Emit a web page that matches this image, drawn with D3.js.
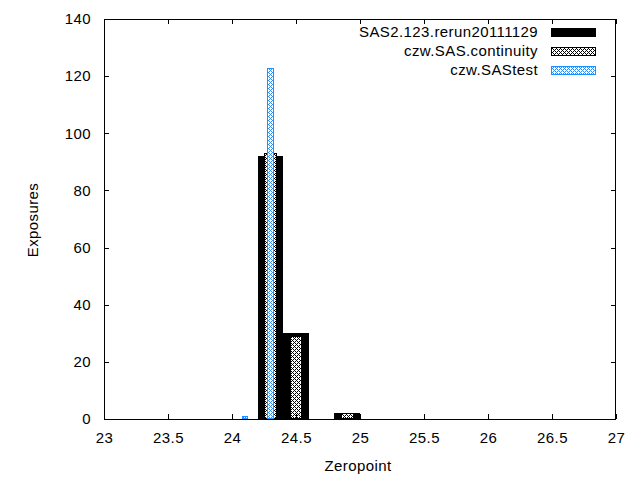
<!DOCTYPE html>
<html>
<head>
<meta charset="utf-8">
<script src="https://cdn.jsdelivr.net/npm/d3@7"></script>
<style>
  html, body { margin: 0; padding: 0; background: #fff; }
  svg { display: block; }
  text { font-family: "Liberation Sans", Arial, sans-serif; font-size: 15px; fill: #000; letter-spacing: 0.4px; }
</style>
</head>
<body>
<svg id="chart" width="640" height="480"></svg>
<script>
// ---- data ----
const seriesNames = ["SAS2.123.rerun20111129", "czw.SAS.continuity", "czw.SAStest"];
const rerunBins = [24.3, 24.5, 24.9];
const rerunCounts = [92, 30, 2];
const continuityBins = [24.3, 24.5, 24.9];
const continuityCounts = [93, 29, 2];
const testBins = [24.1, 24.3];
const testCounts = [1, 123];
const barWidths = [0.2, 0.1, 0.05];
const xTicks = [23, 23.5, 24, 24.5, 25, 25.5, 26, 26.5, 27];
const xTickLabels = ["23", "23.5", "24", "24.5", "25", "25.5", "26", "26.5", "27"];
const yTicks = [0, 20, 40, 60, 80, 100, 120, 140];
const yTickLabels = ["0", "20", "40", "60", "80", "100", "120", "140"];
const xTitle = "Zeropoint";
const yTitle = "Exposures";

// ---- layout ----
const L = 104, R = 616, T = 19, B = 419;
const svg = d3.select("#chart");
const x = d3.scaleLinear().domain([23, 27]).range([L, R]);
const y = d3.scaleLinear().domain([0, 140]).range([B, T]);
const FONT = "'Liberation Sans', Arial, sans-serif";

const defs = svg.append("defs");
function makePattern(id, color) {
  const p = defs.append("pattern").attr("id", id)
    .attr("patternUnits", "userSpaceOnUse").attr("width", 4).attr("height", 4);
  p.append("rect").attr("width", 4).attr("height", 4).attr("fill", "#fff");
  const px = [[0,0],[1,1],[3,1],[2,2],[1,3],[3,3]];
  px.forEach(([a,b]) => p.append("rect").attr("x", a).attr("y", b)
    .attr("width", 1).attr("height", 1).attr("fill", color));
}
makePattern("hatchBlack", "#000");
makePattern("hatchBlue", "#1e90ff");

const styles = [
  { fill: "#000", stroke: "#000" },
  { fill: "url(#hatchBlack)", stroke: "#000" },
  { fill: "url(#hatchBlue)", stroke: "#1e90ff" }
];
const series = [
  { bins: rerunBins, counts: rerunCounts },
  { bins: continuityBins, counts: continuityCounts },
  { bins: testBins, counts: testCounts }
];

// bars
series.forEach((s, i) => {
  const w = barWidths[i];
  const data = s.bins.map((b, k) => ({ b, c: s.counts[k] }));
  svg.append("g").selectAll("rect").data(data).join("rect")
    .attr("x", d => Math.round(x(d.b - w / 2)) + 0.5)
    .attr("y", d => Math.round(y(d.c)) + 0.5)
    .attr("width", d => Math.round(x(d.b + w / 2)) - Math.round(x(d.b - w / 2)) - 1)
    .attr("height", d => Math.round(y(0)) - Math.round(y(d.c)) - 1)
    .attr("fill", styles[i].fill)
    .attr("stroke", styles[i].stroke)
    .attr("stroke-width", 1)
    .attr("shape-rendering", "crispEdges");
});

// axes with inward ticks (gnuplot style, mirrored)
const tickLen = 5;
const gx = svg.append("g").attr("transform", `translate(0,${B})`)
  .call(d3.axisBottom(x).tickValues(xTicks).tickFormat((d, i) => xTickLabels[i])
    .tickSizeInner(-tickLen).tickSizeOuter(0).tickPadding(13));
gx.select(".domain").remove();
gx.attr("font-size", null).attr("font-family", null);
gx.selectAll("text").attr("dy", "0.71em").style("font-size", "15px").style("font-family", FONT);

const gy = svg.append("g").attr("transform", `translate(${L},0)`)
  .call(d3.axisLeft(y).tickValues(yTicks).tickFormat((d, i) => yTickLabels[i])
    .tickSizeInner(-tickLen).tickSizeOuter(0).tickPadding(13));
gy.select(".domain").remove();
gy.attr("font-size", null).attr("font-family", null);
gy.selectAll("text").style("font-size", "15px").style("font-family", FONT);

const gt = svg.append("g").attr("transform", `translate(0,${T})`)
  .call(d3.axisTop(x).tickValues(xTicks).tickFormat("").tickSizeInner(-tickLen).tickSizeOuter(0));
gt.select(".domain").remove();
const gr = svg.append("g").attr("transform", `translate(${R},0)`)
  .call(d3.axisRight(y).tickValues(yTicks).tickFormat("").tickSizeInner(-tickLen).tickSizeOuter(0));
gr.select(".domain").remove();
svg.selectAll(".tick line").attr("shape-rendering", "crispEdges").attr("stroke", "#000");

// border
svg.append("rect").attr("x", L + 0.5).attr("y", T + 0.5)
  .attr("width", R - L - 1).attr("height", B - T).attr("fill", "none")
  .attr("stroke", "#000").attr("shape-rendering", "crispEdges");

// titles
svg.append("text").attr("x", 358).attr("y", 471).attr("text-anchor", "middle").text(xTitle);
svg.append("text").attr("transform", "translate(38,220) rotate(-90)")
  .attr("text-anchor", "middle").text(yTitle);

// legend
const legendY = [32.3, 51, 69.7];
seriesNames.forEach((name, i) => {
  svg.append("text").attr("x", 538).attr("y", legendY[i] + 5)
    .attr("text-anchor", "end").text(name);
  svg.append("rect").attr("x", 551.5).attr("y", Math.round(legendY[i] - 4) + 0.5)
    .attr("width", 44).attr("height", 8)
    .attr("fill", styles[i].fill).attr("stroke", styles[i].stroke)
    .attr("shape-rendering", "crispEdges");
});
</script>
</body>
</html>
